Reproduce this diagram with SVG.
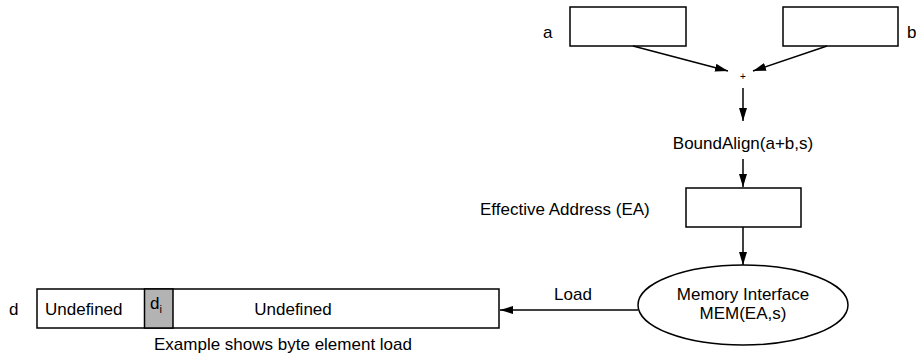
<svg xmlns="http://www.w3.org/2000/svg" width="918" height="355" viewBox="0 0 918 355">
<defs>
<style>
text{font-family:"Liberation Sans",Arial,sans-serif;font-size:17px;fill:#000}
.box{fill:#fff;stroke:#000;stroke-width:1.5}
.ln{stroke:#000;stroke-width:1.5;fill:none;marker-end:url(#ah)}
</style>
<marker id="ah" viewBox="0 0 13 8" refX="13" refY="4" markerWidth="13" markerHeight="8" markerUnits="userSpaceOnUse" orient="auto">
<path d="M0,0 L13,4 L0,8 z" fill="#000"/>
</marker>
</defs>
<rect width="918" height="355" fill="#fff"/>
<g id="node-a">
<rect class="box" x="570" y="7" width="116" height="39"/>
<text x="543" y="38">a</text>
</g>
<g id="node-b">
<rect class="box" x="783" y="7" width="115" height="39"/>
<text x="907" y="38">b</text>
</g>
<g id="node-plus">
<text x="743" y="80" text-anchor="middle" style="font-size:10px">+</text>
</g>
<g id="node-boundalign">
<text x="743" y="149" text-anchor="middle">BoundAlign(a+b,s)</text>
</g>
<g id="node-ea">
<rect class="box" x="686" y="188" width="115" height="39"/>
<text x="480" y="215">Effective Address (EA)</text>
</g>
<g id="node-mem">
<ellipse class="box" cx="743" cy="305" rx="105" ry="40"/>
<text x="743" y="300" text-anchor="middle">Memory Interface</text>
<text x="743" y="319" text-anchor="middle">MEM(EA,s)</text>
</g>
<g id="node-d">
<rect class="box" x="37" y="289" width="462" height="39"/>
<rect x="144.5" y="289" width="28.5" height="39" fill="#b3b3b3" stroke="#000" stroke-width="1.5"/>
<text x="9" y="315">d</text>
<text x="45" y="315">Undefined</text>
<text x="150" y="309">d<tspan style="font-size:11px" dy="4">i</tspan></text>
<text x="293" y="315" text-anchor="middle">Undefined</text>
<text x="283" y="350" text-anchor="middle">Example shows byte element load</text>
</g>
<g id="connectors">
<line class="ln" x1="633" y1="46" x2="728" y2="71"/>
<line class="ln" x1="827" y1="46" x2="753" y2="71"/>
<line class="ln" x1="743" y1="88" x2="743" y2="121"/>
<line class="ln" x1="743" y1="159" x2="743" y2="187"/>
<line class="ln" x1="743" y1="227" x2="743" y2="265"/>
<line class="ln" x1="638" y1="310" x2="500" y2="310"/>
<text x="573" y="300" text-anchor="middle">Load</text>
</g>
</svg>
